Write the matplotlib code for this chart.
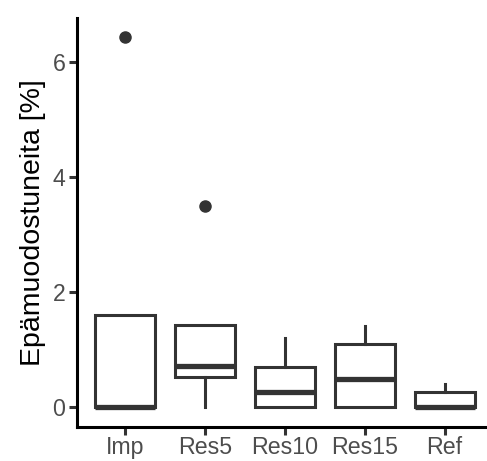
import matplotlib.pyplot as plt

plt.rcParams['font.family'] = ['Liberation Sans', 'DejaVu Sans']

# data (per group box stats)
groups = ['Imp', 'Res5', 'Res10', 'Res15', 'Ref']
q1 = [0.0, 0.53, 0.0, 0.0, 0.0]
med = [0.0, 0.72, 0.26, 0.50, 0.0]
q3 = [1.61, 1.44, 0.70, 1.10, 0.26]
whislo = [0.0, 0.0, 0.0, 0.0, 0.0]
whishi = [1.61, 1.44, 1.21, 1.41, 0.41]
fliers = [[6.43], [3.49], [], [], []]
yticks = [0, 2, 4, 6]

stats = []
for i, g in enumerate(groups):
    stats.append({'label': g, 'q1': q1[i], 'med': med[i], 'q3': q3[i],
                  'whislo': whislo[i], 'whishi': whishi[i], 'fliers': fliers[i]})

fig = plt.figure(figsize=(4.87, 4.61), dpi=100)
ax = fig.add_axes([0.1587, 0.0745, 0.8413, 0.8865])

dark = '#333333'
ax.bxp(stats, positions=range(1, 6), widths=0.75, showcaps=False, patch_artist=True,
       boxprops=dict(facecolor='white', edgecolor=dark, linewidth=2.2),
       medianprops=dict(color=dark, linewidth=3.8, solid_capstyle='butt'),
       whiskerprops=dict(color=dark, linewidth=2.2),
       flierprops=dict(marker='o', markerfacecolor=dark, markeredgecolor=dark, markersize=8))

ax.set_xlim(0.4, 5.53)
ax.set_ylim(-0.333, 6.76)
ax.set_yticks(yticks)
ax.set_xticks(range(1, 6))
ax.set_xticklabels(groups)

for s in ['top', 'right']:
    ax.spines[s].set_visible(False)
for s in ['left', 'bottom']:
    ax.spines[s].set_linewidth(2.2)
    ax.spines[s].set_color('black')

ax.tick_params(axis='both', length=5.5, width=2.2, color=dark, labelcolor='#4D4D4D',
               labelsize=16.7, pad=3)
ax.tick_params(axis='x', pad=1)
ax.set_ylabel('Epämuodostuneita [%]', fontsize=20.5, color='black', labelpad=5)

fig.savefig('out.png', dpi=100)
